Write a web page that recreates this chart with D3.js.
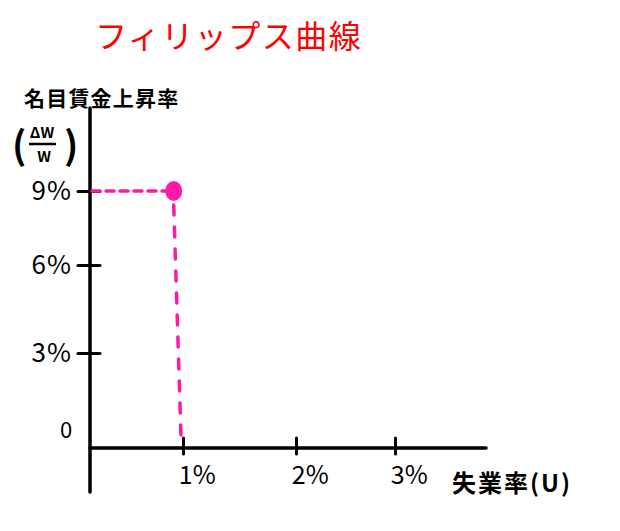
<!DOCTYPE html>
<html>
<head>
<meta charset="utf-8">
<script src="https://cdn.jsdelivr.net/npm/d3@7/dist/d3.min.js"></script>
<style>
  html, body { margin: 0; padding: 0; background: #fff; }
  svg { display: block; }
  text { font-family: "Noto Sans CJK JP", "Noto Sans", sans-serif; }
</style>
</head>
<body>
<svg id="chart" width="620" height="531"></svg>
<script>
// ---- data ----
const title = "フィリップス曲線";
const yLabel = "名目賃金上昇率";
const xLabel = "失業率(U)";
const xTicks = [1, 2, 3];
const xTickLabels = ["1%", "2%", "3%"];
const yTicks = [3, 6, 9];
const yTickLabels = ["3%", "6%", "9%"];
const pointU = [0.9];      // unemployment rate (%)
const pointW = [9];        // nominal wage growth (%)
const guideFootU = [1];    // where the vertical guide meets the x-axis

// ---- scales (hand-drawn spacing reproduced piecewise) ----
const x = d3.scaleLinear().domain([0, 1, 2, 3, 4]).range([90, 183, 296, 395, 486]);
const y = d3.scaleLinear().domain([0, 3, 6, 9, 12]).range([448, 353, 265, 191, 108]);

const svg = d3.select("#chart");
const pink = "#ff1aa6";

// title
svg.append("text").attr("x", 95).attr("y", 48)
  .attr("fill", "#ff0000").attr("font-size", 32).attr("letter-spacing", 1.5)
  .text(title);

// y label
svg.append("text").attr("x", 24).attr("y", 106)
  .attr("font-size", 21).attr("font-weight", "bold").attr("letter-spacing", 1.2).attr("fill", "#000")
  .text(yLabel);
// (ΔW / W)
const frac = svg.append("g").attr("font-weight", "bold").attr("fill", "#000");
frac.append("text").attr("x", 12).attr("y", 159).attr("font-size", 38).text("(");
frac.append("text").attr("x", 42).attr("y", 138).attr("font-size", 15).attr("text-anchor", "middle").text("ΔW");
frac.append("line").attr("x1", 29).attr("x2", 56).attr("y1", 144).attr("y2", 144)
  .attr("stroke", "#000").attr("stroke-width", 2.5);
frac.append("text").attr("x", 44).attr("y", 162).attr("font-size", 15).attr("text-anchor", "middle").text("W");
frac.append("text").attr("x", 64).attr("y", 159).attr("font-size", 38).text(")");

// axes
const yAxis = d3.axisLeft(y).tickValues(yTicks).tickFormat((d, i) => yTickLabels[i]).tickSize(0);
const gy = svg.append("g").attr("transform", `translate(${x(0)},0)`).call(yAxis);
gy.select(".domain").remove();
gy.selectAll(".tick text").attr("x", -18).attr("font-size", 26).attr("letter-spacing", 1).attr("fill", "#000");
gy.selectAll(".tick").append("line").attr("x1", -12).attr("x2", 10)
  .attr("stroke", "#000").attr("stroke-width", 3).attr("stroke-linecap", "round");

svg.append("line").attr("x1", x(0)).attr("x2", x(0)).attr("y1", y(12)).attr("y2", 492)
  .attr("stroke", "#000").attr("stroke-width", 3.5).attr("stroke-linecap", "round");

const xAxis = d3.axisBottom(x).tickValues(xTicks).tickFormat((d, i) => xTickLabels[i]).tickSize(0);
const gx = svg.append("g").attr("transform", `translate(0,${y(0)})`).call(xAxis);
gx.select(".domain").remove();
gx.selectAll(".tick text").attr("y", 28).attr("dy", "0.32em").attr("dx", "0.55em").attr("font-size", 25).attr("fill", "#000");
gx.selectAll(".tick").append("line").attr("y1", -10).attr("y2", 6)
  .attr("stroke", "#000").attr("stroke-width", 3).attr("stroke-linecap", "round");
svg.append("line").attr("x1", x(0)).attr("x2", x(4)).attr("y1", y(0)).attr("y2", y(0))
  .attr("stroke", "#000").attr("stroke-width", 3.5).attr("stroke-linecap", "round");

// zero label
svg.append("text").attr("x", 66).attr("y", 438).attr("font-size", 22).attr("text-anchor", "middle").text("0");

// x label
svg.append("text").attr("x", 452).attr("y", 492).attr("font-size", 24).attr("font-weight", "bold").attr("letter-spacing", 2).text(xLabel);

// guides
svg.append("line").attr("x1", x(0) + 2).attr("x2", x(pointU[0]) - 8)
  .attr("y1", y(pointW[0])).attr("y2", y(pointW[0]))
  .attr("stroke", pink).attr("stroke-width", 3.5).attr("stroke-dasharray", "8 6").attr("stroke-linecap", "round");
svg.append("line").attr("x1", x(pointU[0])).attr("x2", x(guideFootU[0]) - 2)
  .attr("y1", y(pointW[0]) + 14).attr("y2", y(0) - 12)
  .attr("stroke", pink).attr("stroke-width", 3.5).attr("stroke-dasharray", "10 12").attr("stroke-linecap", "round");

// point
svg.selectAll("ellipse.pt").data(pointU).join("ellipse").attr("class", "pt")
  .attr("cx", (d) => x(d)).attr("cy", (d, i) => y(pointW[i]))
  .attr("rx", 8.5).attr("ry", 10).attr("fill", pink);
</script>
</body>
</html>
